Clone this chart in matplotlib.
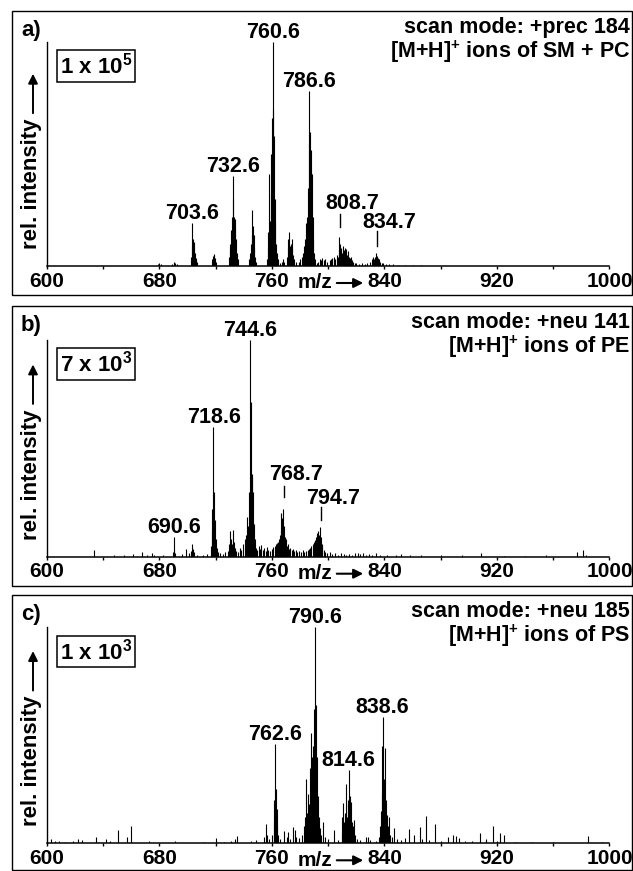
import matplotlib
matplotlib.use('Agg')
import matplotlib.pyplot as plt
from matplotlib import font_manager
from matplotlib.patches import Rectangle, FancyArrowPatch

# --- data (m/z, rel. intensity in %) ---
a_peaks = [
    (679, 0.8), (680, 1.2), (681, 0.7), (689, 1.0), (690.5, 1.8), (691.5, 1.2), (692.5, 0.8),
    (702.6, 4), (703.0, 9), (703.6, 19), (704.0, 12), (704.6, 10.5), (705.0, 8), (705.6, 6),
    (706.2, 3.5), (707, 2),
    (717.6, 3), (718.2, 4.5), (718.6, 5.5), (719.2, 5), (719.8, 3.5), (720.4, 2),
    (729.6, 4), (730.2, 7), (730.6, 10), (731.2, 16), (731.6, 22), (732.2, 30), (732.6, 40),
    (733.0, 22), (733.6, 21), (734.0, 17), (734.6, 12), (735.2, 6), (736, 3),
    (744.0, 3), (744.6, 6), (745.2, 10), (745.6, 14), (746.2, 25), (746.6, 18), (747.0, 14),
    (747.6, 8), (748.2, 4), (749, 2),
    (756.6, 3), (757.2, 8), (757.6, 15), (758.0, 41), (758.6, 20), (759.2, 32), (759.6, 50),
    (760.0, 66), (760.6, 100), (761.0, 70), (761.6, 58), (762.0, 30), (762.6, 20), (763.2, 10),
    (763.6, 6), (764.4, 3),
    (766, 1.5), (767, 2), (768, 3), (769, 2), (770.6, 4), (771.2, 8), (771.6, 12), (772.0, 15),
    (772.6, 9), (773.2, 7), (773.6, 10), (774.1, 12), (774.6, 8), (775.2, 5), (776, 3), (777, 2),
    (779, 2), (780, 3), (781.2, 4), (782.0, 6), (782.6, 5), (783.2, 9), (783.6, 12), (784.3, 19),
    (784.8, 14), (785.3, 22), (785.8, 35), (786.2, 55), (786.6, 78), (787.0, 60), (787.6, 52),
    (788.0, 42), (788.6, 41), (789.0, 22), (789.6, 12), (790.2, 6), (791, 3),
    (792, 1.5), (793, 2), (794, 3), (795, 2.5), (796, 3.5), (797, 2.5), (798, 3), (799, 2),
    (801, 2.5), (802, 3), (803, 3.5), (804, 4), (805, 3), (806, 5), (807, 4), (807.6, 7),
    (808.0, 13), (808.6, 10), (809.2, 8), (809.8, 6), (810.4, 9), (811, 7), (811.6, 6),
    (812.2, 8), (812.8, 7.5), (813.4, 5), (814, 6.5), (814.6, 4), (815.4, 3.5), (816.2, 4),
    (817, 2.5), (818, 2), (819, 1.5), (820, 1.5),
    (822, 1), (824, 1.2), (826, 1), (828, 1.5), (830, 2), (831.2, 3), (832.0, 4), (832.6, 3),
    (833.4, 4), (834.0, 6), (834.6, 4.5), (835.2, 3.5), (836, 3), (837, 2), (838, 1.5),
    (839, 1.2), (841, 1), (843, 0.8), (846, 0.7), (850, 0.6), (855, 0.5), (860, 0.5), (866, 0.4),
]

b_peaks = [
    (633.8, 3.2), (648, 0.8), (655, 1.0), (661.6, 1.2), (667.5, 2.3), (671, 0.8), (674.6, 1.6),
    (676, 0.8), (683, 0.6), (689.5, 2), (690.2, 9), (690.8, 3), (691.5, 1.5), (696, 1.2),
    (699, 3.4), (701, 1.5), (702.6, 2.5), (703.6, 6), (704.2, 3.5), (705, 2), (707, 1), (711, 1),
    (714, 1.2), (716.8, 5), (717.4, 12), (717.8, 22), (718.2, 60), (718.6, 30), (719.0, 15),
    (719.6, 17), (720.2, 8), (720.8, 4), (721.6, 2), (723, 1.5), (725, 1.2), (727, 2),
    (728.6, 2.5), (729.6, 6), (730.3, 12), (730.8, 8), (731.6, 6), (732.6, 12.5), (733.2, 7),
    (733.8, 4), (734.6, 2.5), (736, 2), (737.2, 4), (738.4, 3), (739.6, 6), (740.6, 8),
    (741.4, 10), (742.1, 18.5), (742.8, 8), (743.4, 14), (744.0, 30), (744.5, 100), (744.9, 38),
    (745.3, 71.5), (745.7, 38), (746.1, 37), (746.6, 30), (747.2, 15), (747.8, 8), (748.6, 4),
    (749.6, 3), (750.6, 5), (751.6, 3.5), (752.6, 5.5), (753.6, 3), (754.6, 4), (755.6, 2.5),
    (756.6, 4.5), (757.6, 3), (759, 2.5), (760.2, 3.5), (761, 4.5), (762, 5), (762.8, 6),
    (763.6, 6.5), (764.4, 7), (765, 8), (765.6, 10), (766.2, 12), (766.8, 20), (767.4, 18),
    (768.2, 22), (768.8, 14), (769.4, 9), (770, 8), (770.6, 5), (771.4, 6), (772.2, 3.5),
    (773, 4), (774, 3), (775, 3.5), (776, 2.5), (777, 3), (778, 2), (779.5, 2.5), (781, 2),
    (782, 3), (783, 2), (784, 2.5), (785.5, 3), (786.5, 3.5), (787.4, 4), (788.2, 5), (789, 6),
    (789.8, 7), (790.6, 7.5), (791.4, 9), (792.2, 11), (792.8, 12), (793.4, 10), (794.2, 13.5),
    (794.8, 9), (795.4, 6), (796, 5), (796.8, 3), (797.6, 2), (799, 1.5), (801, 2), (803, 1.2),
    (805, 1.5), (807, 1), (809, 1.5), (811, 1.2), (813, 1), (815, 1.3), (817, 1), (819, 1.5),
    (821, 1.8), (823, 1.2), (825, 1.5), (827, 1), (829, 1.3), (831, 1), (834, 1.8), (837, 0.8),
    (842, 1), (848, 0.8), (851.6, 1.2), (858, 0.6), (866, 0.6), (880, 0.8), (895, 0.6),
    (909, 1.5), (925, 0.5), (940, 0.5), (955, 0.6), (977, 2), (981, 3.2), (983, 1),
]

c_peaks = [
    (603, 2), (606, 1), (609, 1), (613, 0.8), (619, 1.2), (622, 2), (625, 1.5), (635, 3),
    (642, 2.2), (645, 1), (651, 6), (657, 3), (660, 8), (673, 1), (691, 1), (712, 0.8),
    (720, 2.3), (726, 0.8), (731, 1), (734, 2), (735.5, 3.4), (745, 1), (748.8, 1.5),
    (754.5, 3), (755.9, 9), (756.6, 4), (758, 2), (760.3, 4), (761.2, 10), (761.8, 20),
    (762.3, 46), (762.8, 25), (763.4, 16), (764, 8), (764.6, 4), (766, 2), (768.5, 5.5),
    (770.5, 3), (771.7, 5.4), (773, 2), (775.3, 7.7), (776.5, 6), (777.5, 3), (779.5, 2.5),
    (781.5, 4), (782.6, 8), (783.6, 12), (784.3, 30), (785, 14), (785.8, 23), (786.6, 18),
    (787.4, 35), (788.2, 51), (788.9, 40), (789.6, 45), (790.2, 62), (790.6, 100), (791.2, 64),
    (791.8, 40), (792.5, 22), (793.2, 12), (794, 7), (794.8, 4), (796.1, 10), (797.5, 3),
    (800, 2), (804.4, 6), (807, 1.5), (809.6, 5), (810.2, 12), (810.8, 18.5), (811.4, 10),
    (812, 14), (812.5, 27.5), (813.1, 12), (813.8, 20), (814.4, 18), (814.9, 34), (815.4, 22),
    (816.1, 19), (816.8, 10), (817.5, 8), (818.6, 11), (819.4, 4), (820.5, 2), (823, 1.5),
    (826.8, 3), (828.6, 3), (830, 1.5), (834, 1.2), (836, 3), (836.8, 8), (837.4, 15),
    (838.0, 23), (838.5, 45), (839.0, 58.6), (839.6, 30), (840.2, 44), (840.8, 20),
    (841.6, 13), (842.5, 8), (843.3, 12), (844.3, 4), (845.5, 3), (847, 7), (849, 2),
    (852, 1.5), (855, 2.5), (857.5, 6.6), (861.3, 4), (865.3, 7.4), (867, 2), (869.6, 12.7),
    (872, 1.5), (876, 9), (880, 1), (885, 3), (889, 4), (891, 3.5), (893, 2.5), (897, 1),
    (902, 1), (908, 5), (912, 2), (917, 8), (920, 1), (922, 5), (925, 4), (933, 0.8),
    (945, 0.8), (960, 0.6), (985, 3.5), (995, 0.6),
]

a_labels = ['703.6', '732.6', '760.6', '786.6', '808.7', '834.7']
b_labels = ['690.6', '718.6', '744.6', '768.7', '794.7']
c_labels = ['762.6', '790.6', '814.6', '838.6']

panel_letters = ['a)', 'b)', 'c)']
scales = ['1 x 10$^{5}$', '7 x 10$^{3}$', '1 x 10$^{3}$']
scan_modes = ['scan mode: +prec 184', 'scan mode: +neu 141', 'scan mode: +neu 185']
ion_texts = ['[M+H]$^{+}$ ions of SM + PC', '[M+H]$^{+}$ ions of PE', '[M+H]$^{+}$ ions of PS']
x_ticks = list(range(600, 1001, 40))
x_ticklabels = [str(t) if (t - 600) % 80 == 0 else '' for t in x_ticks]

# --- layout (pixels of the 633x871 picture) ---
W, H = 633, 871
AX_L, AX_R = 46.7, 609.5
panels = [
    dict(box_top=11, box_bot=295, base=266, top=42),
    dict(box_top=306, box_bot=585.5, base=556.7, top=340),
    dict(box_top=595, box_bot=869.5, base=843.3, top=627.3),
]
# labels with a small tick mark: (mark start, mark end, label baseline) in px above peak
marker_style = {
    '808.7': (17, 30, 35),
    '834.7': (10, 25, 28),
    '768.7': (12, 23, 29),
    '794.7': (7, 20, 23),
}


def fx(x):
    return x / W


def fy(y):
    return 1 - y / H


names = {f.name for f in font_manager.fontManager.ttflist}
if 'Liberation Sans Narrow' in names:
    tick_font, tick_size = 'Liberation Sans Narrow', 17
else:
    tick_font, tick_size = 'Liberation Sans', 15

plt.rcParams['font.family'] = ['Liberation Sans', 'DejaVu Sans']
plt.rcParams['font.weight'] = 'bold'
plt.rcParams['mathtext.fontset'] = 'custom'
plt.rcParams['mathtext.rm'] = 'Liberation Sans:bold'
plt.rcParams['mathtext.bf'] = 'Liberation Sans:bold'
plt.rcParams['mathtext.default'] = 'rm'

fig = plt.figure(figsize=(W / 100, H / 100), dpi=100)

all_peaks = [a_peaks, b_peaks, c_peaks]
all_labels = [a_labels, b_labels, c_labels]
px_per_mz = (AX_R - AX_L) / 400.0

for i, p in enumerate(panels):
    h_px = p['base'] - p['top']
    ax = fig.add_axes([fx(AX_L), fy(p['base']), (AX_R - AX_L) / W, h_px / H])
    mz = [m for m, v in all_peaks[i]]
    inten = [v for m, v in all_peaks[i]]
    ax.vlines(mz, 0, inten, colors='black', lw=0.8)
    ax.set_xlim(600, 1000)
    ax.set_ylim(0, 100)
    for s in ['top', 'right']:
        ax.spines[s].set_visible(False)
    ax.spines['left'].set_linewidth(1.0)
    ax.spines['bottom'].set_linewidth(1.1)
    ax.set_yticks([])
    ax.set_xticks(x_ticks)
    ax.set_xticklabels(x_ticklabels)
    ax.tick_params(axis='x', direction='out', length=2.5, width=1.0, pad=1.5)
    for lab in ax.get_xticklabels():
        lab.set_fontfamily(tick_font)
        lab.set_fontsize(tick_size)
        lab.set_fontweight('bold')
    ax.patch.set_visible(False)

    # peak labels
    ppy = h_px / 100.0  # px per % intensity
    for lab in all_labels[i]:
        lmz = float(lab)
        ymax = max(v for m, v in all_peaks[i] if abs(m - lmz) <= 0.7)
        if lab in marker_style:
            m0, m1, lb = marker_style[lab]
            ax.plot([lmz, lmz], [ymax + m0 / ppy, ymax + m1 / ppy], color='black', lw=1.0,
                    clip_on=False)
            ax.text(lmz + 12 / px_per_mz, ymax + lb / ppy, lab, ha='center', va='baseline',
                    fontsize=15.5, fontweight='bold', clip_on=False)
        else:
            ax.text(lmz, ymax + 4 / ppy, lab, ha='center', va='baseline',
                    fontsize=15.5, fontweight='bold', clip_on=False)

    # m/z arrow in the tick label row
    fig.text(fx(298), fy(p['base'] + 17), 'm/z', ha='left', va='center',
             fontfamily=tick_font, fontsize=tick_size, fontweight='bold')
    fig.add_artist(FancyArrowPatch((fx(334), fy(p['base'] + 17)), (fx(366), fy(p['base'] + 17)),
                                   transform=fig.transFigure, arrowstyle='-|>',
                                   mutation_scale=14, lw=1.5, color='black'))

    # y label with arrow
    t_bot = p['base'] - 17
    fig.text(fx(32), fy(t_bot), 'rel. intensity', rotation=90, ha='center', va='bottom',
             fontsize=16, fontweight='bold')
    fig.add_artist(FancyArrowPatch((fx(33), fy(t_bot - 133)), (fx(33), fy(t_bot - 178)),
                                   transform=fig.transFigure, arrowstyle='-|>',
                                   mutation_scale=14, lw=1.4, color='black'))

    # panel frame
    fig.add_artist(Rectangle((fx(11.7), fy(p['box_bot'])), (631.5 - 11.7) / W,
                             (p['box_bot'] - p['box_top']) / H, transform=fig.transFigure,
                             fill=False, lw=1.0, ec='black'))

    # texts
    fig.text(fx(21), fy(p['box_top'] + 25), panel_letters[i], ha='left', va='baseline',
             fontsize=16, fontweight='bold')
    fig.text(fx(630), fy(p['box_top'] + 22), scan_modes[i], ha='right', va='baseline',
             fontsize=15.5, fontweight='bold')
    fig.text(fx(630), fy(p['box_top'] + 47), ion_texts[i], ha='right', va='baseline',
             fontsize=15.5, fontweight='bold')
    fig.text(fx(60), fy(p['top'] + 24), scales[i], ha='left', va='center',
             fontsize=16, fontweight='bold',
             bbox=dict(boxstyle='square,pad=0.12', fc='white', ec='black', lw=1.1))

fig.savefig('out.png', dpi=100)
